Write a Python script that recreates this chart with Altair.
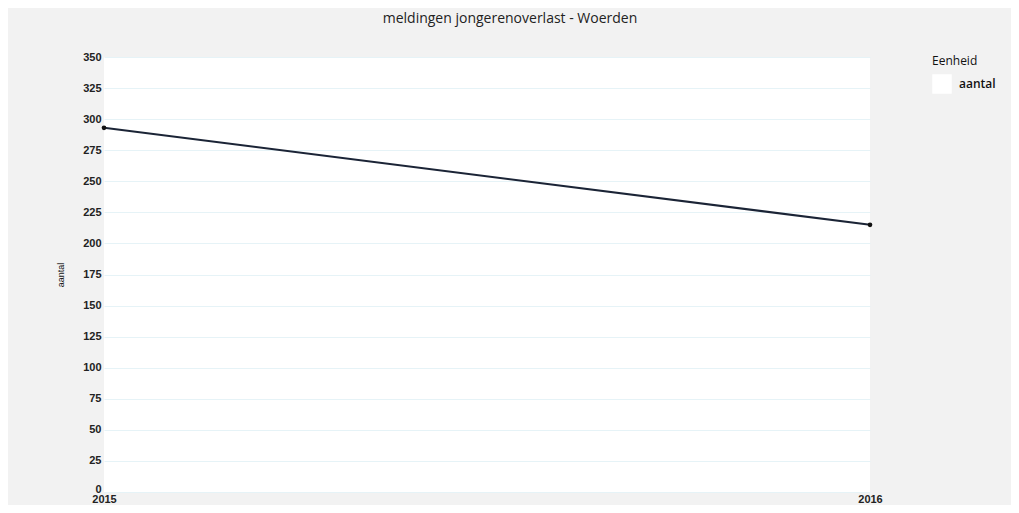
import altair as alt
import pandas as pd

years = [2015, 2016]
values = [293, 215]
eenheid = ["aantal", "aantal"]

df = pd.DataFrame({"jaar": years, "aantal": values, "Eenheid": eenheid})

x_enc = alt.X("jaar:Q",
              scale=alt.Scale(domain=[2015, 2016], nice=False, zero=False),
              axis=alt.Axis(values=years, format="d", title=None, grid=False,
                            domain=False, ticks=False, labelFont="Liberation Sans",
                            labelFontSize=11, labelFontWeight="bold", labelColor="#222",
                            labelPadding=1, labelFlush=False))
y_enc = alt.Y("aantal:Q",
              scale=alt.Scale(domain=[0, 350], nice=False),
              axis=alt.Axis(values=list(range(0, 351, 25)), title="aantal",
                            titleFont="Liberation Sans", titleFontSize=9,
                            titleFontWeight="normal", titleColor="#111", titlePadding=17,
                            grid=True, gridColor="#e6f3f7", gridWidth=1,
                            domain=False, ticks=False, labelFont="Liberation Sans",
                            labelFontSize=11, labelFontWeight="bold", labelColor="#222",
                            labelPadding=3,
                            labelOffset={"condition": {"test": "datum.value === 0", "value": -3},
                                         "value": 0}))

color_enc = alt.Color("Eenheid:N", scale=alt.Scale(range=["#1b2436"]),
                      legend=alt.Legend(title="Eenheid", orient="none", legendX=828, legendY=-1,
                                        symbolType="square", symbolFillColor="white",
                                        symbolStrokeColor="white", symbolSize=380,
                                        symbolStrokeWidth=0,
                                        titleFont="Open Sans", titleFontSize=12,
                                        titleFontWeight="normal", titleColor="#111",
                                        labelFont="Open Sans", labelFontSize=12,
                                        labelFontWeight=600, labelColor="#111",
                                        labelOffset=7, titlePadding=6))

line = alt.Chart(df).mark_line(strokeWidth=2).encode(x=x_enc, y=y_enc, color=color_enc)
pts = alt.Chart(df).mark_point(filled=True, size=22, color="#111", opacity=1).encode(
    x=x_enc, y=y_enc)

chart = alt.layer(line, pts).properties(
    width=766, height=435,
    title=alt.TitleParams("meldingen jongerenoverlast - Woerden", font="Open Sans",
                          fontSize=14, fontWeight="normal", color="#222",
                          anchor="middle", dx=23, offset=25),
    autosize=alt.AutoSizeParams(type="none"),
    padding={"left": 96, "top": 49, "right": 141, "bottom": 13},
    background="#f2f2f2",
).configure_view(fill="white", stroke=None)

chart.save("out.html", embed_options={"renderer": "svg", "actions": False})
